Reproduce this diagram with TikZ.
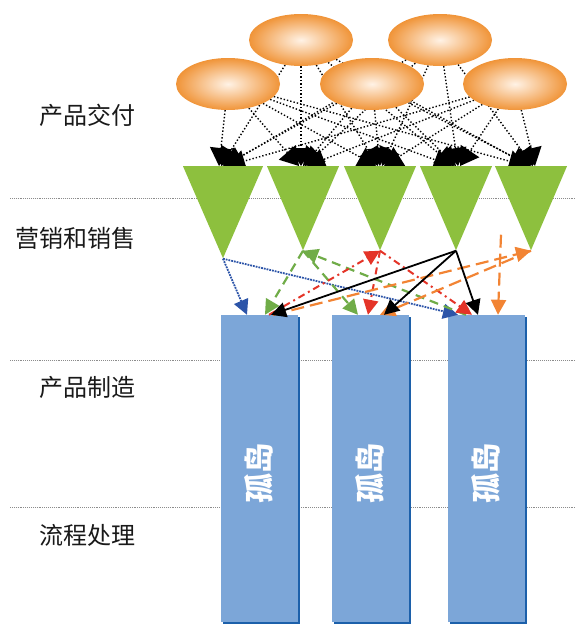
\documentclass[tikz,border=0pt]{standalone}
\usepackage{fontspec}
\newfontfamily\cjk{Noto Sans CJK SC}
\usetikzlibrary{positioning, shapes.geometric, arrows.meta, backgrounds, shadows}

\definecolor{leafgreen}{RGB}{141,192,62}
\definecolor{barblue}{RGB}{124,166,216}
\definecolor{bardark}{RGB}{28,96,170}
\definecolor{peach}{RGB}{240,148,56}
\definecolor{flowgreen}{RGB}{112,172,72}
\definecolor{flowred}{RGB}{228,52,40}
\definecolor{floworange}{RGB}{242,132,52}
\definecolor{flowblue}{RGB}{44,84,168}

\begin{document}
\begin{tikzpicture} [x=1pt, y=-1pt,
            on grid,
            auto,
            delivery/.style={ellipse, inner sep=0pt,
                minimum width=104pt, minimum height=52pt,
                inner color=white!90!orange, outer color=peach},
            funnel/.style={isosceles triangle, isosceles triangle stretches,
                shape border rotate=270, inner sep=0pt, fill=leafgreen,
                minimum width=72pt, minimum height=84pt},
            island/.style={rectangle, inner sep=0pt, fill=barblue,
                minimum width=77pt, minimum height=307pt,
                general shadow={fill=bardark, shadow xshift=2pt, shadow yshift=-2pt}},
            islandtext/.style={rotate=90, text=white,
                font=\cjk\bfseries\fontsize{30}{32}\selectfont},
            layer/.style={anchor=east, text=black!90,
                font=\cjk\fontsize{24}{28}\selectfont},
            guide/.style={black!45, densely dotted, line width=0.9pt},
            feed/.style={dotted, line width=1.4pt,
                -{Triangle[length=18pt,width=22pt]}},
            tip/.style={-{Triangle[length=15pt,width=15pt]}},
            blueflow/.style={tip, flowblue, densely dotted, line width=1.8pt},
            greenflow/.style={tip, flowgreen, dash pattern=on 9pt off 6pt, line width=2.2pt},
            redflow/.style={tip, flowred, dash pattern=on 7pt off 4pt on 2pt off 4pt, line width=2pt},
            orangeflow/.style={tip, floworange, dash pattern=on 13pt off 6pt, line width=2.2pt},
            blackflow/.style={tip, black, line width=1.8pt}]

        \useasboundingbox (0,0) rectangle (576,624);

        % Layers
        \node (lay1) [layer] at (139,115) {产品交付};
        \node (lay2) [layer] at (139,238) {营销和销售};
        \node (lay3) [layer] at (139,387) {产品制造};
        \node (lay4) [layer] at (139,535) {流程处理};

        % Delivery
        \node (d1) [delivery] at (228,84) {};
        \node (d3) [delivery, right=144pt of d1] {};
        \node (d5) [delivery, right=143pt of d3] {};
        \node (d2) [delivery] at (301,40) {};
        \node (d4) [delivery, right=139pt of d2] {};

        % Marketing
        \node (t1) [funnel, anchor=north, minimum width=80pt, minimum height=92pt] at (223,166) {};
        \node (t2) [funnel, anchor=north] at (303,166) {};
        \node (t3) [funnel, right=77pt of t2] {};
        \node (t4) [funnel, right=76pt of t3] {};
        \node (t5) [funnel, right=75pt of t4] {};

        % Islands
        \node (b1) [island] at (259,468.5) {};
        \node (b2) [island, right=111pt of b1] {};
        \node (b3) [island, right=116pt of b2] {};

        \node (s1) [islandtext] at ([yshift=-5pt]b1.center) {孤岛};
        \node (s2) [islandtext] at ([yshift=-5pt]b2.center) {孤岛};
        \node (s3) [islandtext] at ([yshift=-5pt]b3.center) {孤岛};

        \begin{pgfonlayer}{background}
            \foreach \y in {198,360,507}
                \draw [guide] (10,\y) -- (576,\y);
            \foreach \i in {1,...,5}
                \foreach \j in {1,...,5}
                    \draw [feed] (d\i) -- ([xshift={(\i-3)*2pt}]t\j.north);
        \end{pgfonlayer}

        % Flows
        \draw [blueflow] (t1.south) -- ([xshift=-12pt]b1.north);
        \draw [blueflow] (t1.south) -- ([xshift=-28pt]b3.north);

        \draw [greenflow] (t2.south) -- ([xshift=6pt]b1.north);
        \draw [greenflow] (t2.south) -- ([xshift=-12pt]b2.north);
        \draw [greenflow] ([xshift=-20pt]b3.north) -- (t2.south);

        \draw [redflow] ([xshift=10pt]b1.north) -- (t3.south);
        \draw [redflow] (t3.south) -- ([xshift=-2pt]b2.north);
        \draw [redflow] (t3.south) -- ([xshift=-14pt]b3.north);

        \draw [orangeflow] ([xshift=14pt]b1.north) -- (t5.south);
        \draw [orangeflow] (t5.south) -- ([xshift=10pt]b2.north);
        \draw [orangeflow] ([xshift=-30pt,yshift=16pt]t5.south) -- ([xshift=12pt]b3.north);

        \draw [blackflow] (t4.south) -- ([xshift=12pt]b1.north);
        \draw [blackflow] (t4.south) -- ([xshift=14pt]b2.north);
        \draw [blackflow] (t4.south) -- ([xshift=-8pt]b3.north);
\end{tikzpicture}
\end{document}
